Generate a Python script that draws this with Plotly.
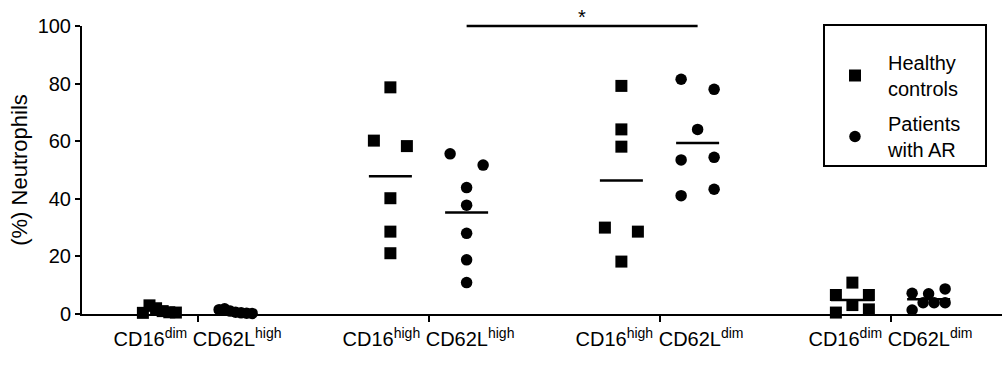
import numpy as np
import plotly.graph_objects as go

# ---------------- data ----------------
categories = [
    "CD16<sup>dim</sup> CD62L<sup>high</sup>",
    "CD16<sup>high</sup> CD62L<sup>high</sup>",
    "CD16<sup>high</sup> CD62L<sup>dim</sup>",
    "CD16<sup>dim</sup> CD62L<sup>dim</sup>",
]
healthy_g1 = [0.4, 3.0, 2.0, 1.0, 0.6, 0.5]
healthy_g2 = [78.7, 60.2, 58.3, 40.2, 28.6, 21.1]
healthy_g3 = [79.2, 64.1, 58.1, 30.0, 28.6, 18.2]
healthy_g4 = [0.5, 3.1, 1.6, 6.6, 6.6, 10.9]

patients_g1 = [1.5, 1.8, 1.0, 0.6, 0.4, 0.3, 0.2]
patients_g2 = [55.6, 51.7, 43.9, 37.8, 28.0, 18.8, 10.9]
patients_g3 = [81.5, 78.0, 64.1, 53.5, 54.4, 41.1, 43.3]
patients_g4 = [1.4, 3.9, 3.9, 3.9, 7.2, 7.0, 8.7]

healthy = [healthy_g1, healthy_g2, healthy_g3, healthy_g4]
patients = [patients_g1, patients_g2, patients_g3, patients_g4]
y_ticks = [0, 20, 40, 60, 80, 100]
y_range = [0, 100]
sig_label = "*"
sig_level = 100

# ---------------- layout helpers ----------------
FONT = "Arial, Liberation Sans, sans-serif"
PX_PER_CAT = 231.0
SUB_OFF = 0.165          # offset of each series from category centre
ROW_TOL = 4.0            # y tolerance (data units) for a "row"
ROW_WIDTH = 33.0         # px max span of a row
MEAN_HALF = 21.5 / PX_PER_CAT


def dodge(vals):
    """Prism-like scatter spreading: group close values into rows, centre rows."""
    vals = list(vals)
    order = sorted(range(len(vals)), key=lambda i: vals[i])
    rows, cur = [], []
    for i in order:
        if cur and vals[i] - vals[cur[0]] > ROW_TOL:
            rows.append(cur)
            cur = []
        cur.append(i)
    if cur:
        rows.append(cur)
    offs = [0.0] * len(vals)
    for r in rows:
        r = sorted(r)  # keep data order within row
        n = len(r)
        if n == 1:
            continue
        step = ROW_WIDTH / (n - 1)
        for k, i in enumerate(r):
            offs[i] = (-ROW_WIDTH / 2 + k * step) / PX_PER_CAT
    return offs


fig = go.Figure()

hx, hy, px_, py = [], [], [], []
for g in range(len(categories)):
    for v, o in zip(healthy[g], dodge(healthy[g])):
        hx.append(g - SUB_OFF + o)
        hy.append(v)
    for v, o in zip(patients[g], dodge(patients[g])):
        px_.append(g + SUB_OFF + o)
        py.append(v)

# mean lines
for g in range(len(categories)):
    for sign, series in ((-1, healthy), (1, patients)):
        m = float(np.mean(series[g]))
        c = g + sign * SUB_OFF
        fig.add_trace(go.Scatter(
            x=[c - MEAN_HALF, c + MEAN_HALF], y=[m, m], mode="lines",
            line=dict(color="black", width=2.5), showlegend=False,
            hoverinfo="skip", cliponaxis=False))

# significance bar between patient groups 2 and 3 (paper y so it is not clipped)
sig_paper = (sig_level - y_range[0]) / (y_range[1] - y_range[0])
fig.add_shape(type="line", xref="x", yref="paper",
              x0=1 + SUB_OFF, x1=2 + SUB_OFF, y0=sig_paper, y1=sig_paper,
              line=dict(color="black", width=2.5), layer="above")
fig.add_annotation(x=1.5 + SUB_OFF, y=sig_level, yref="y", xref="x",
                   text=sig_label, showarrow=False, yanchor="bottom",
                   yshift=-4, font=dict(family=FONT, size=20, color="black"))

fig.add_trace(go.Scatter(
    x=hx, y=hy, mode="markers", name="Healthy<br>controls",
    marker=dict(symbol="square", size=12, color="black"),
    cliponaxis=False, legendgroup="a"))
fig.add_trace(go.Scatter(
    x=px_, y=py, mode="markers", name="Patients<br>with AR",
    marker=dict(symbol="circle", size=11.5, color="black"),
    cliponaxis=False, legendgroup="b"))

# legend frame
L, T = 82, 26
PW, PH = 920, 288
def px2x(p):
    return (p - L) / PW
def py2y(p):
    return (T + PH - p) / PH
fig.add_shape(type="rect", xref="paper", yref="paper",
              x0=px2x(824), x1=px2x(986), y0=py2y(166), y1=py2y(25),
              line=dict(color="black", width=2), fillcolor="rgba(0,0,0,0)")

fig.update_layout(
    width=1002, height=365,
    margin=dict(l=L, r=1002 - L - PW, t=T, b=365 - T - PH, pad=0),
    paper_bgcolor="white", plot_bgcolor="white",
    font=dict(family=FONT, size=20, color="black"),
    showlegend=True,
    legend=dict(x=px2x(822), y=py2y(43), xanchor="left", yanchor="top",
                bgcolor="rgba(0,0,0,0)", borderwidth=0, itemwidth=56,
                tracegroupgap=6,
                font=dict(family=FONT, size=20, color="black")),
    xaxis=dict(range=[-0.5, -0.5 + PW / PX_PER_CAT], tickmode="array",
               tickvals=list(range(len(categories))), ticktext=categories,
               showline=True, linecolor="black", linewidth=2,
               ticks="outside", ticklen=6, tickwidth=2, tickcolor="black",
               showgrid=False, zeroline=False,
               tickfont=dict(family=FONT, size=20, color="black")),
    yaxis=dict(range=y_range, tickmode="array", tickvals=y_ticks,
               showline=True, linecolor="black", linewidth=2,
               ticks="outside", ticklen=5, tickwidth=2, tickcolor="black",
               showgrid=False, zeroline=False,
               title=dict(text="(%) Neutrophils", standoff=4,
                          font=dict(family=FONT, size=22, color="black")),
               tickfont=dict(family=FONT, size=20, color="black")),
)

fig.write_html("out.html")
